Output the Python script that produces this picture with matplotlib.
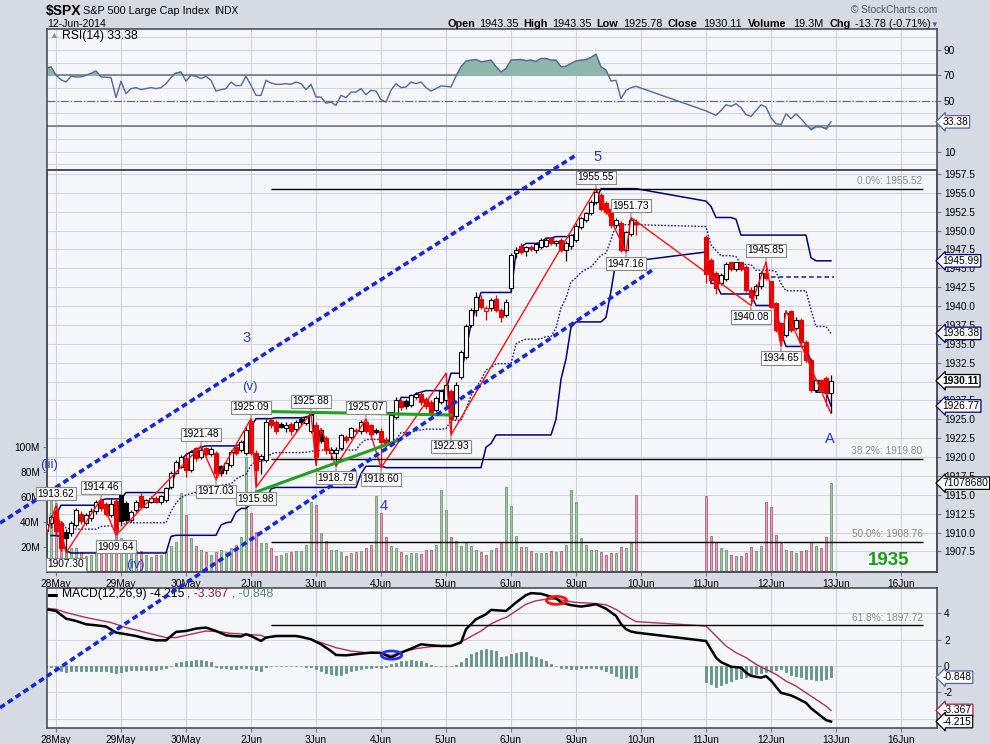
import numpy as np
import pandas as pd
import matplotlib
matplotlib.use('Agg')
import matplotlib.pyplot as plt
from matplotlib.patches import Rectangle, Ellipse

plt.rcParams['font.family'] = ['Liberation Sans', 'DejaVu Sans']

# 30 min bars, x = bar number counted from the 28 May open (13 bars a day, 10 Jun has no data)
day_labels = ['28May', '29May', '30May', '2Jun', '3Jun', '4Jun', '5Jun', '6Jun',
              '9Jun', '10Jun', '11Jun', '12Jun', '13Jun', '16Jun']
day_start = [0, 13, 26, 39, 52, 65, 78, 91, 104, 117, 130, 143, 156, 169]
bars = [-2, -1] + list(range(0, 117)) + list(range(130, 156))

opens = [1910.2, 1911.3,
         1912.8, 1911.3, 1910.1, 1909.9, 1911.0, 1912.5, 1911.3, 1911.9, 1912.8, 1914.3, 1913.8, 1912.3, 1914.2,
         1915.0, 1913.9, 1911.7, 1913.0, 1914.8, 1913.4, 1914.1, 1914.6, 1914.1, 1914.3, 1916.0, 1917.9, 1918.7,
         1919.9, 1918.3, 1921.2, 1920.0, 1921.2, 1920.4, 1920.5, 1918.8, 1918.3, 1919.0, 1921.4, 1920.9, 1920.5,
         1924.8, 1920.5, 1919.8, 1919.6, 1924.9, 1924.7, 1924.4, 1923.9, 1924.4, 1923.7, 1925.0, 1924.5, 1923.4,
         1924.2, 1923.6, 1922.5, 1920.6, 1920.5, 1921.2, 1922.6, 1922.7, 1923.6, 1923.4, 1924.6, 1924.2, 1923.6,
         1923.5, 1922.3, 1922.0, 1925.3, 1927.4, 1927.4, 1926.9, 1928.0, 1928.4, 1927.7, 1927.3, 1926.3, 1927.3,
         1927.5, 1928.8, 1925.5, 1930.6, 1933.3, 1937.5, 1939.5, 1940.9, 1939.3, 1939.7, 1941.0, 1939.5, 1938.8,
         1942.4, 1947.0, 1948.0, 1947.3, 1947.8, 1947.4, 1947.8, 1948.0, 1949.0, 1948.3, 1948.7, 1947.4, 1947.9,
         1948.8, 1950.5, 1951.4, 1952.3, 1953.8, 1954.7, 1953.6, 1952.9, 1950.7, 1951.0, 1947.4, 1949.5, 1951.1,
         1949.2, 1946.1, 1944.4, 1943.1, 1943.6, 1945.8, 1944.9, 1945.8, 1945.2, 1942.1, 1941.5, 1942.6, 1944.4,
         1943.35, 1940.4, 1937.7, 1936.2, 1939.3, 1937.1, 1938.2, 1935.3, 1932.9, 1928.9, 1930.2, 1930.5, 1928.5]
highs = [1911.6, 1912.3,
         1913.62, 1911.5, 1910.5, 1911.6, 1913.3, 1912.8, 1912.6, 1913.2, 1914.3, 1914.46, 1914.0, 1914.4, 1914.4,
         1915.3, 1914.2, 1913.0, 1914.3, 1915.2, 1914.5, 1914.9, 1914.9, 1915.0, 1916.1, 1918.2, 1919.6, 1920.3,
         1920.7, 1921.0, 1921.3, 1921.48, 1921.4, 1921.4, 1920.8, 1919.0, 1919.4, 1920.9, 1921.7, 1922.3, 1924.0,
         1925.09, 1921.0, 1920.4, 1925.0, 1925.2, 1924.9, 1924.7, 1924.6, 1924.6, 1924.9, 1925.3, 1925.5, 1925.88,
         1924.6, 1923.9, 1922.8, 1921.4, 1921.3, 1923.1, 1922.9, 1924.0, 1923.9, 1924.9, 1925.07, 1924.4, 1923.9,
         1923.8, 1922.6, 1925.9, 1927.9, 1927.7, 1927.7, 1928.4, 1928.6, 1928.8, 1928.0, 1927.5, 1928.1, 1928.9,
         1931.1, 1929.0, 1930.0, 1934.2, 1937.6, 1939.8, 1941.8, 1941.5, 1940.0, 1941.1, 1941.4, 1939.8, 1940.9,
         1947.0, 1947.8, 1948.3, 1948.0, 1948.1, 1948.4, 1949.0, 1949.0, 1949.2, 1948.8, 1949.0, 1948.6, 1949.6,
         1951.0, 1951.8, 1952.5, 1954.0, 1955.55, 1955.0, 1953.9, 1953.2, 1951.6, 1951.3, 1950.0, 1951.73, 1951.5,
         1949.4, 1946.4, 1944.7, 1944.4, 1945.9, 1945.9, 1945.9, 1945.9, 1945.5, 1942.5, 1942.9, 1944.7, 1945.99,
         1943.35, 1940.6, 1937.9, 1939.4, 1939.5, 1938.5, 1938.4, 1935.5, 1933.1, 1930.4, 1930.4, 1930.7, 1930.9]
lows = [1909.6, 1910.9,
        1909.5, 1907.6, 1907.3, 1909.5, 1910.8, 1911.2, 1911.0, 1911.6, 1912.5, 1912.9, 1912.2, 1912.0, 1909.64,
        1911.0, 1911.3, 1911.4, 1912.7, 1913.2, 1913.2, 1913.9, 1913.9, 1913.8, 1914.1, 1915.8, 1917.7, 1918.5,
        1917.3, 1918.0, 1919.5, 1919.7, 1920.2, 1920.1, 1917.03, 1917.5, 1917.8, 1918.7, 1920.3, 1920.7, 1920.3,
        1920.3, 1915.98, 1917.8, 1919.3, 1923.9, 1923.0, 1923.8, 1923.3, 1922.9, 1923.3, 1924.3, 1924.2, 1923.2,
        1918.9, 1921.8, 1920.4, 1919.8, 1918.79, 1920.9, 1921.9, 1922.4, 1923.2, 1923.1, 1923.2, 1922.7, 1923.1,
        1918.6, 1921.3, 1921.8, 1925.1, 1926.2, 1926.4, 1926.6, 1927.7, 1926.9, 1926.4, 1925.6, 1926.0, 1927.0,
        1926.8, 1922.93, 1925.0, 1930.3, 1933.0, 1937.2, 1938.7, 1939.6, 1938.1, 1939.4, 1939.2, 1937.9, 1938.5,
        1942.0, 1946.3, 1946.9, 1946.6, 1947.3, 1947.0, 1947.5, 1947.8, 1948.1, 1948.0, 1947.2, 1946.0, 1947.6,
        1948.5, 1950.2, 1951.1, 1952.0, 1953.5, 1952.6, 1952.2, 1950.4, 1950.4, 1947.2, 1947.16, 1949.3, 1949.4,
        1943.0, 1943.0, 1941.6, 1942.8, 1943.3, 1944.6, 1944.6, 1944.6, 1941.8, 1940.08, 1941.0, 1942.3, 1943.4,
        1939.7, 1936.5, 1934.65, 1935.9, 1936.5, 1936.8, 1935.0, 1932.6, 1928.6, 1928.6, 1928.6, 1926.77, 1925.78]
closes = [1911.2, 1912.0,
          1910.2, 1908.0, 1909.3, 1911.3, 1913.0, 1911.5, 1912.3, 1912.8, 1914.1, 1913.2, 1912.5, 1913.8, 1910.4,
          1911.6, 1911.7, 1912.7, 1914.1, 1913.4, 1914.3, 1914.6, 1914.1, 1914.8, 1915.9, 1917.9, 1919.4, 1920.0,
          1918.3, 1920.7, 1919.9, 1921.0, 1920.4, 1921.1, 1917.9, 1917.9, 1919.2, 1920.7, 1920.5, 1922.0, 1923.6,
          1920.6, 1918.3, 1920.1, 1924.7, 1924.2, 1923.4, 1924.0, 1924.3, 1923.4, 1924.6, 1924.6, 1925.3, 1925.6,
          1920.0, 1922.1, 1920.9, 1921.0, 1921.0, 1922.9, 1922.2, 1923.8, 1923.4, 1924.6, 1923.4, 1923.1, 1923.3,
          1922.0, 1921.6, 1925.6, 1927.6, 1926.6, 1926.7, 1928.2, 1928.4, 1927.3, 1926.7, 1925.9, 1927.8, 1928.7,
          1929.5, 1925.0, 1929.6, 1933.9, 1937.3, 1939.5, 1941.2, 1939.9, 1939.7, 1940.8, 1939.5, 1938.6, 1940.6,
          1946.8, 1947.4, 1947.2, 1947.8, 1947.5, 1948.2, 1948.7, 1948.8, 1948.3, 1948.6, 1947.4, 1948.3, 1949.4,
          1950.6, 1951.6, 1952.3, 1953.8, 1955.1, 1952.9, 1952.5, 1950.7, 1951.4, 1947.4, 1949.8, 1951.4, 1950.9,
          1944.3, 1943.4, 1942.4, 1944.1, 1945.6, 1944.9, 1945.8, 1944.9, 1942.1, 1941.2, 1942.6, 1944.4, 1943.7,
          1939.9, 1936.8, 1935.5, 1939.1, 1936.8, 1938.2, 1935.3, 1932.9, 1928.9, 1930.2, 1928.9, 1928.5, 1930.11]
volume_m = [25, 62,
            55, 28, 16, 19, 19, 16, 12.5, 14, 15, 16, 16, 15, 58,
            27, 18, 20, 17, 17, 14, 12, 14, 14, 16, 21, 24, 63,
            46, 27, 21, 18, 16, 14, 16, 18, 16, 19, 22, 28, 92,
            47, 32, 23, 23, 19, 12.5, 13.5, 15, 16, 17, 17, 22, 56,
            54, 31, 25, 18, 18, 16, 13, 15, 16, 17, 19, 21.6, 61,
            47, 28, 21, 19, 16, 13.6, 15, 15, 14.4, 18, 18, 22, 66,
            50, 28, 25, 21, 23, 21, 18, 16, 14, 17.6, 19, 23, 68,
            53, 29, 20, 20, 17, 15, 15, 15, 17, 16, 17, 21.6, 66,
            56, 27, 21.6, 18, 17.6, 16, 13.6, 15, 15, 20, 19, 23, 61.6,
            61, 29, 24, 19, 18, 14, 13, 13, 15.5, 20, 17, 21, 56,
            52, 30, 23, 18, 17, 15.5, 17, 17.5, 24, 21, 19, 28, 71.08]
rsi = [75.3, 76.6,
       70.0, 66.5, 64.7, 69.2, 68.7, 68.7, 70.0, 71.5, 73.4, 68.7, 68.5, 68.2, 52.4,
       65.3, 55.5, 59.5, 60.3, 58.7, 59.5, 60.3, 59.5, 60.3, 63.4, 68.2, 71.8, 72.6,
       65.3, 70.0, 69.2, 67.4, 69.2, 66.0, 57.6, 58.7, 59.5, 64.7, 61.8, 62.0, 69.2,
       62.0, 54.2, 54.2, 66.0, 63.9, 62.9, 62.9, 63.4, 62.9, 64.7, 63.4, 58.7, 62.9,
       52.9, 52.9, 48.1, 48.9, 46.3, 54.2, 52.4, 56.8, 56.8, 59.5, 54.7, 58.2, 57.6,
       50.8, 48.9, 58.2, 63.4, 60.3, 60.8, 64.7, 63.4, 64.7, 60.3, 57.6, 59.5, 61.6,
       61.3, 60.8, 69.2, 76.6, 81.1, 81.9, 82.4, 80.6, 81.1, 81.9, 76.6, 72.6, 75.3,
       81.9, 82.2, 82.4, 81.5, 81.9, 80.8, 83.2, 83.2, 81.9, 81.9, 76.6, 77.1, 79.2,
       81.3, 81.9, 82.4, 84.0, 86.6, 76.6, 74.0, 65.5, 66.0, 51.6, 58.1, 60.3, 61.3,
       42.0, 40.2, 38.5, 42.3, 46.8, 45.6, 47.6, 44.5, 39.2, 37.6, 42.3, 46.8, 45.0,
       36.6, 31.8, 31.3, 39.7, 35.8, 39.7, 35.8, 31.3, 27.3, 29.7, 29.7, 27.9, 33.38]
macd_hist = [-0.05, -0.1,
             -0.15, -0.4, -0.42, -0.4, -0.38, -0.36, -0.38, -0.4, -0.38, -0.36, -0.4, -0.45, -0.5,
             -0.48, -0.35, -0.33, -0.32, -0.3, -0.3, -0.3, -0.28, -0.25, -0.13, -0.02, 0.2, 0.3,
             0.38, 0.42, 0.45, 0.44, 0.38, 0.3, -0.1, -0.15, -0.18, -0.2, -0.2, -0.18, -0.15,
             -0.2, -0.3, -0.38, -0.05, -0.03, 0.02, 0.03, 0.02, 0.0, -0.02, -0.02, -0.05, -0.08,
             -0.2, -0.35, -0.5, -0.62, -0.71, -0.65, -0.55, -0.4, -0.28, -0.2, -0.15, -0.12, -0.1,
             -0.15, -0.05, 0.15, 0.25, 0.35, 0.42, 0.45, 0.42, 0.35, 0.25, 0.05, 0.03, 0.02,
             0.0, 0.03, 0.05, 0.3, 0.6, 0.9, 1.1, 1.25, 1.27, 1.2, 1.15, 0.65, 0.75,
             0.9, 1.0, 1.1, 1.05, 0.78, 0.65, 0.5, 0.38, 0.13, 0.02, -0.13, -0.18, -0.2,
             -0.2, -0.15, -0.13, -0.13, -0.18, -0.25, -0.38, -0.55, -0.75, -0.88, -0.9, -0.88, -0.85,
             -1.22, -1.4, -1.57, -1.45, -1.3, -1.14, -1.0, -0.89, -0.8, -0.76, -0.6, -0.5, -0.45,
             -0.38, -0.3, -0.25, -0.45, -0.65, -0.75, -0.85, -0.95, -1.01, -1.06, -1.05, -1.01, -0.848]

macd_bar = [-2, 0, 2, 4, 6, 8, 10, 12, 14, 16, 18, 20, 22, 24, 26, 28, 30, 32, 34, 35, 37, 38, 39, 41,
            42, 44, 46, 48, 49, 51, 53, 55, 56, 58, 61, 63, 65, 67, 69, 71, 73, 75, 77, 79, 81, 82,
            84, 86, 87, 90, 92, 94, 95, 97, 100, 101, 103, 105, 107, 108, 110, 112, 113, 114, 115, 116,
            130, 132, 133, 135, 137, 138, 139, 141, 142, 143, 145, 147, 148, 150, 151, 153, 154, 155]
macd_val = [4.31, 4.18, 3.6, 3.42, 3.17, 3.09, 3.0, 2.54, 2.41, 2.28, 2.08, 1.95, 1.95, 2.59, 2.66, 2.84,
            2.92, 2.66, 2.33, 2.28, 2.24, 2.41, 2.28, 1.9, 2.16, 2.28, 2.28, 2.28, 2.21, 2.03, 1.65, 1.14,
            0.84, 0.81, 0.94, 1.02, 1.0, 0.64, 1.02, 1.32, 1.65, 1.57, 1.52, 1.52, 1.78, 2.79, 3.55, 3.93,
            4.26, 4.18, 4.82, 5.38, 5.53, 5.48, 5.15, 4.82, 4.62, 4.51, 4.62, 4.69, 4.35, 3.8, 3.2, 2.8,
            2.62, 2.54, 1.9, 0.64, 0.3, -0.05, -0.12, -0.5, -0.75, -0.88, -0.76, -1.1, -2.03, -2.23, -2.4,
            -2.79, -3.2, -3.8, -4.1, -4.215]
sig_bar = [-2, 0, 2, 6, 11, 14, 18, 22, 24, 26, 30, 33, 35, 38, 41, 42, 44, 47, 49, 51, 54, 56, 59, 62,
           65, 67, 69, 72, 75, 79, 82, 85, 87, 89, 90, 92, 94, 96, 98, 100, 102, 104, 107, 110, 112, 114,
           116, 130, 132, 134, 136, 138, 140, 142, 144, 146, 148, 150, 152, 154, 155]
sig_val = [4.39, 4.31, 4.06, 3.68, 3.3, 2.92, 2.54, 2.16, 2.16, 2.33, 2.66, 2.59, 2.48, 2.41, 2.33, 2.16,
           2.24, 2.28, 2.24, 2.03, 1.65, 1.39, 1.14, 1.02, 0.96, 0.81, 1.02, 1.32, 1.47, 1.52, 2.03, 2.66,
           3.2, 3.55, 3.68, 4.18, 4.69, 4.95, 5.07, 5.07, 4.95, 4.82, 4.77, 4.65, 4.3, 3.8, 3.37, 3.04,
           2.28, 1.52, 1.01, 0.64, 0.13, -0.25, -0.63, -1.14, -1.52, -2.03, -2.53, -3.04, -3.367]

# ZigZag(0.21%) pivots
zz_bar = [-2, 0, 2, 9, 12, 29, 32, 39, 40, 51, 52, 53, 56, 62, 65, 78, 79, 108, 114, 115, 139, 142, 145, 146, 155]
zz_val = [1909.6, 1913.62, 1907.30, 1914.46, 1909.64, 1921.48, 1917.03, 1925.09, 1915.98, 1925.88, 1918.9,
          1923.8, 1918.79, 1925.07, 1918.60, 1931.1, 1922.93, 1955.55, 1947.16, 1951.73, 1940.08, 1945.85,
          1934.65, 1939.4, 1925.78]
zz_unlabeled = [-2, 52, 53, 78, 146, 155]

fib_levels = [1955.52, 1919.80, 1908.76]
fib_names = ['0.0%: 1955.52', '38.2%: 1919.80', '50.0%: 1908.76']

# ---------------------------------------------------------------- layout
W, H = 990, 744
fig = plt.figure(figsize=(W / 100, H / 100), dpi=100, facecolor='#d6dae3')


def box(l, t, r, b):
    return [l / W, 1 - b / H, (r - l) / W, (b - t) / H]


def px(x, y):
    return x / W, 1 - y / H


panel_bg = '#f5f6fa'
grid_c = '#d0d3dc'
x_lo, x_hi = -1.8, 176.2
p_lo, p_hi = 1904.78, 1958.02
v_max = 321.6e6

ax_rsi = fig.add_axes(box(47, 29, 937, 170))
axv = fig.add_axes(box(47, 170, 937, 572))
ax = axv.twinx()
ax_macd = fig.add_axes(box(47, 588, 937, 728))
axv.set_zorder(4)
ax.set_zorder(5)

for a in (ax_rsi, axv, ax_macd):
    a.set_facecolor(panel_bg)
for a in (ax_rsi, axv, ax, ax_macd):
    a.set_xlim(x_lo, x_hi)
    for s in a.spines.values():
        s.set_color('#4a4e5a')
        s.set_linewidth(1.2)
    a.tick_params(labelsize=7.3, length=3, color='#777777', width=0.8, pad=2)
for a in (ax_rsi, axv, ax_macd):
    for d in day_start:
        a.axvline(d, color=grid_c, lw=0.8, zorder=0)
    a.set_xticks(day_start)
    a.set_xticklabels(day_labels)
ax_rsi.tick_params(axis='x', labelbottom=False, length=0)

bx = np.array(bars, dtype=float)
o = np.array(opens)
h = np.array(highs)
l = np.array(lows)
c = np.array(closes)
down = np.r_[False, c[1:] < c[:-1]]

# ---------------------------------------------------------------- RSI
ax_rsi.set_ylim(-4.5, 106.4)
ax_rsi.yaxis.tick_right()
ax_rsi.set_yticks([10, 30, 50, 70, 90])
ax_rsi.set_yticklabels(['10', '', '50', '70', '90'])
for lv in range(0, 101, 10):
    ax_rsi.axhline(lv, color=grid_c, lw=0.8, zorder=0)
ax_rsi.axhline(70, color='#6a6e78', lw=1.1, zorder=1)
ax_rsi.axhline(30, color='#6a6e78', lw=1.1, zorder=1)
ax_rsi.axhline(50, color='#6a6e78', lw=0.9, ls='-.', zorder=1)
rv = np.array(rsi)
ax_rsi.fill_between(bx, rv, 70, where=rv > 70, interpolate=True, color='#8db7aa', zorder=2)
ax_rsi.fill_between(bx, rv, 30, where=rv < 30, interpolate=True, color='#8db7aa', zorder=2)
ax_rsi.plot(bx, rv, color='#5566a0', lw=1.0, zorder=3)


# ---------------------------------------------------------------- volume
def to_vol(p):
    return (p - p_lo) / (p_hi - p_lo) * v_max


axv.set_ylim(0, v_max)
for lv in np.arange(1907.5, 1958, 2.5):
    axv.axhline(to_vol(lv), color=grid_c, lw=0.8, zorder=0)
vcol = np.where(down, '#dfa0b4', '#a5c4a5')
vedge = np.where(down, '#b3607c', '#6f9a70')
axv.bar(bx, np.array(volume_m) * 1e6, width=0.55, color=vcol, edgecolor=vedge, lw=0.6, zorder=2)
axv.set_yticks([20e6, 40e6, 60e6, 80e6, 100e6])
axv.set_yticklabels(['20M', '40M', '60M', '80M', '100M'])

# ---------------------------------------------------------------- price
ax.set_ylim(p_lo, p_hi)
p_ticks = np.arange(1907.5, 1958, 2.5)
ax.set_yticks(p_ticks)
ax.set_yticklabels(['' if abs(v - 1930.0) < 0.01 else '%.1f' % v for v in p_ticks])

# price channel 20 over time slots (10 Jun counts as empty slots)
slots = np.arange(-2, 156)
hs = pd.Series(np.nan, index=slots)
ls = pd.Series(np.nan, index=slots)
hs.loc[bars] = h
ls.loc[bars] = l
upper = hs.rolling(20, min_periods=1).max().shift(1).loc[bars].values
lower = ls.rolling(20, min_periods=1).min().shift(1).loc[bars].values
mid = (upper + lower) / 2
ax.plot(bx, upper, color='#00007a', lw=1.1, zorder=3)
ax.plot(bx, lower, color='#00007a', lw=1.1, zorder=3)
ax.plot(bx, mid, color='#1a1a9a', lw=1.0, ls=(0, (1.2, 1.2)), zorder=3)
ax.hlines(1943.8, 143, 155.5, color='#1a1a9a', lw=1.1, ls=(0, (3, 2)), zorder=3)

# candles
for xi, oi, hi, li, ci, dn in zip(bx, o, h, l, c, down):
    col = '#e80000' if dn else 'black'
    ax.vlines(xi, li, hi, color=col, lw=0.9, zorder=6)
    face = 'white' if ci >= oi else col
    ax.add_patch(Rectangle((xi - 0.32, min(oi, ci)), 0.64, max(abs(ci - oi), 0.08),
                           facecolor=face, edgecolor=col, lw=0.8, zorder=7))

# zigzag
ax.plot(zz_bar, zz_val, color='#ff1010', lw=1.0, zorder=8)
lab_style = dict(boxstyle='square,pad=0.15', fc='#fafafa', ec='#8a8a8a', lw=0.8)
for i, (zb, zv) in enumerate(zip(zz_bar, zz_val)):
    if zb in zz_unlabeled:
        continue
    is_high = zv > zz_val[i - 1] if i > 0 else zv > zz_val[i + 1]
    off = 8.3 if is_high else -8.3
    ax.annotate('%.2f' % zv, xy=(zb, zv), xytext=(0, off), textcoords='offset points',
                ha='center', va='center', fontsize=7.3, bbox=lab_style, zorder=12,
                arrowprops=dict(arrowstyle='-', color='#8a8a8a', lw=0.8, shrinkA=0, shrinkB=0))

# fibonacci levels
ax.hlines(fib_levels, 43, 173.3, color='black', lw=1.0, zorder=9)
for lv, nm in zip(fib_levels, fib_names):
    ax.text(173.3, lv + 0.35, nm, ha='right', va='bottom', fontsize=7.3, color='#8c8c8c', zorder=9)
ax_macd.hlines(3.1, 43, 173.3, color='black', lw=1.0, zorder=4)
ax_macd.text(173.3, 3.25, '61.8%: 1897.72', ha='right', va='bottom', fontsize=7.3, color='#8c8c8c', zorder=4)

# trend lines
ax.plot([-11.2, 104.0], [1911.27, 1960.0], color='#1428d8', lw=2.6, ls=(0, (1.6, 1.0)),
        clip_on=False, zorder=10)
ax.plot([-11.2, 119.8], [1886.8, 1945.0], color='#1428d8', lw=2.6, ls=(0, (1.6, 1.0)),
        clip_on=False, zorder=10)
ax.plot([37.1, 79.1], [1926.1, 1925.57], color='#22a022', lw=2.2, zorder=9)
ax.plot([40.1, 68.8], [1915.4, 1922.3], color='#22a022', lw=2.2, zorder=9)

# wave labels
wave_c = '#2838d0'
ax.text(108.4, 1959.7, '5', color=wave_c, fontsize=10.5, ha='center', va='center', zorder=11)
ax.text(38.2, 1935.8, '3', color=wave_c, fontsize=10.5, ha='center', va='center', zorder=11)
ax.text(38.8, 1929.3, '(v)', color=wave_c, fontsize=9.5, ha='center', va='center', zorder=11)
ax.text(65.6, 1913.5, '4', color=wave_c, fontsize=10.5, ha='center', va='center', zorder=11)
ax.text(-3.1, 1918.9, '(iii)', color=wave_c, fontsize=9.5, ha='left', va='center', zorder=11)
ax.text(15.8, 1905.7, '(iv)', color=wave_c, fontsize=9.5, ha='center', va='center', zorder=11)
ax.text(154.8, 1922.4, 'A', color=wave_c, fontsize=10.5, ha='center', va='center', zorder=11)
ax.text(166.5, 1906.3, '1935', color='#16a016', fontsize=13.5, fontweight='bold',
        ha='center', va='center', zorder=11)

# ---------------------------------------------------------------- MACD
ax_macd.set_ylim(-4.7, 5.92)
ax_macd.yaxis.tick_right()
ax_macd.set_yticks([-4, -2, 0, 2, 4])
ax_macd.set_yticklabels(['', '-2', '0', '2', '4'])
for lv in (-4, -2, 0, 2, 4):
    ax_macd.axhline(lv, color=grid_c, lw=0.8, zorder=0)
ax_macd.bar(bx, macd_hist, width=0.45, color='#5f9a84', edgecolor='#457a66', lw=0.4, zorder=2)
ax_macd.plot(sig_bar, sig_val, color='#b0305a', lw=1.0, zorder=3)
ax_macd.plot(macd_bar, macd_val, color='black', lw=1.8, zorder=3)
ax_macd.add_patch(Ellipse((100.1, 4.98), 4.0, 0.6, fill=False, ec='#ff1010', lw=2, zorder=5))
ax_macd.add_patch(Ellipse((67.1, 0.83), 4.1, 0.62, fill=False, ec='#2030ff', lw=2, zorder=5))


# ---------------------------------------------------------------- value tags on the right
def tag(a, y, text, edge, ycoord='data', bold=False):
    a.annotate(text, xy=(1, y), xycoords=('axes fraction', ycoord), xytext=(4, 0),
               textcoords='offset points', ha='left', va='center', fontsize=7.4,
               fontweight='bold' if bold else 'normal',
               bbox=dict(boxstyle='larrow,pad=0.12', fc='white', ec=edge, lw=0.9),
               annotation_clip=False, zorder=30)


tag(ax_rsi, 33.38, '33.38', '#5566a0')
tag(ax, 1945.99, '1945.99', '#00007a')
tag(ax, 1936.38, '1936.38', '#00007a')
tag(ax, 1930.11, '1930.11', 'black', bold=True)
tag(ax, 1926.77, '1926.77', '#00007a')
tag(ax, 71078680, '71078680', 'black', ycoord=axv.transData)
tag(ax_macd, -0.848, '-0.848', '#5566a0')
tag(ax_macd, -3.367, '-3.367', '#a0204a')
tag(ax_macd, -4.215, '-4.215', 'black')

# ---------------------------------------------------------------- header and legends
fig.text(*px(46, 11), r'\$SPX', fontsize=10, fontweight='bold', va='center')
fig.text(*px(83, 11), 'S&P 500 Large Cap Index', fontsize=7.8, va='center')
fig.text(*px(214, 11), 'INDX', fontsize=7.3, va='center')
fig.text(*px(47, 24), '12-Jun-2014', fontsize=7.5, va='center')
fig.text(*px(937, 10), '© StockCharts.com', fontsize=7.2, ha='right', va='center', color='#555555')
info = [(447, 'Open', True), (479, '1943.35', False), (523, 'High', True), (552, '1943.35', False),
        (596, 'Low', True), (623, '1925.78', False), (668, 'Close', True), (703, '1930.11', False),
        (748, 'Volume', True), (793, '19.3M', False), (830, 'Chg', True), (855, '-13.78 (-0.71%)', False)]
for xp, t, b in info:
    fig.text(*px(xp, 24), t, fontsize=7.8, fontweight='bold' if b else 'normal', va='center')
fig.text(*px(930, 25), '▼', fontsize=5.5, color='#4a5a9a', va='center')

fig.text(*px(49, 36), '▲', fontsize=6.5, color='#6f9f90', va='center')
fig.text(*px(62, 36), 'RSI(14) 33.38', fontsize=8.7, va='center')

fig.text(*px(49, 177.5), '▥', fontsize=7, va='center')
fig.text(*px(62, 177.5), r'\$SPX (30 min) 1930.11', fontsize=8.7, va='center')
fig.text(*px(48, 189), '▬', fontsize=7, color='#00007a', va='center')
fig.text(*px(60, 189), 'CHAN(20) 1926.77 - 1936.38 - 1945.99', fontsize=7.0, color='#00007a', va='center')
fig.text(*px(48, 199.5), '▬', fontsize=7, color='#ee0000', va='center')
fig.text(*px(60, 199.5), 'ZigZag(0.21%)', fontsize=7.0, color='#ee0000', va='center')
fig.text(*px(48, 209.5), '▮', fontsize=7, color='#3d6e3d', va='center')
fig.text(*px(60, 209.5), 'Volume 71,078,680', fontsize=7.0, color='#3d6e3d', va='center')

fig.text(*px(48, 594), '▬', fontsize=7, color='black', va='center')
fig.text(*px(62, 594), 'MACD(12,26,9) -4.215', fontsize=8.7, va='center')
fig.text(*px(187, 594), ', -3.367', fontsize=8.7, color='#a0204a', va='center')
fig.text(*px(232, 594), ', -0.848', fontsize=8.7, color='#4f8a74', va='center')

fig.savefig('out.png', dpi=100, facecolor=fig.get_facecolor())
